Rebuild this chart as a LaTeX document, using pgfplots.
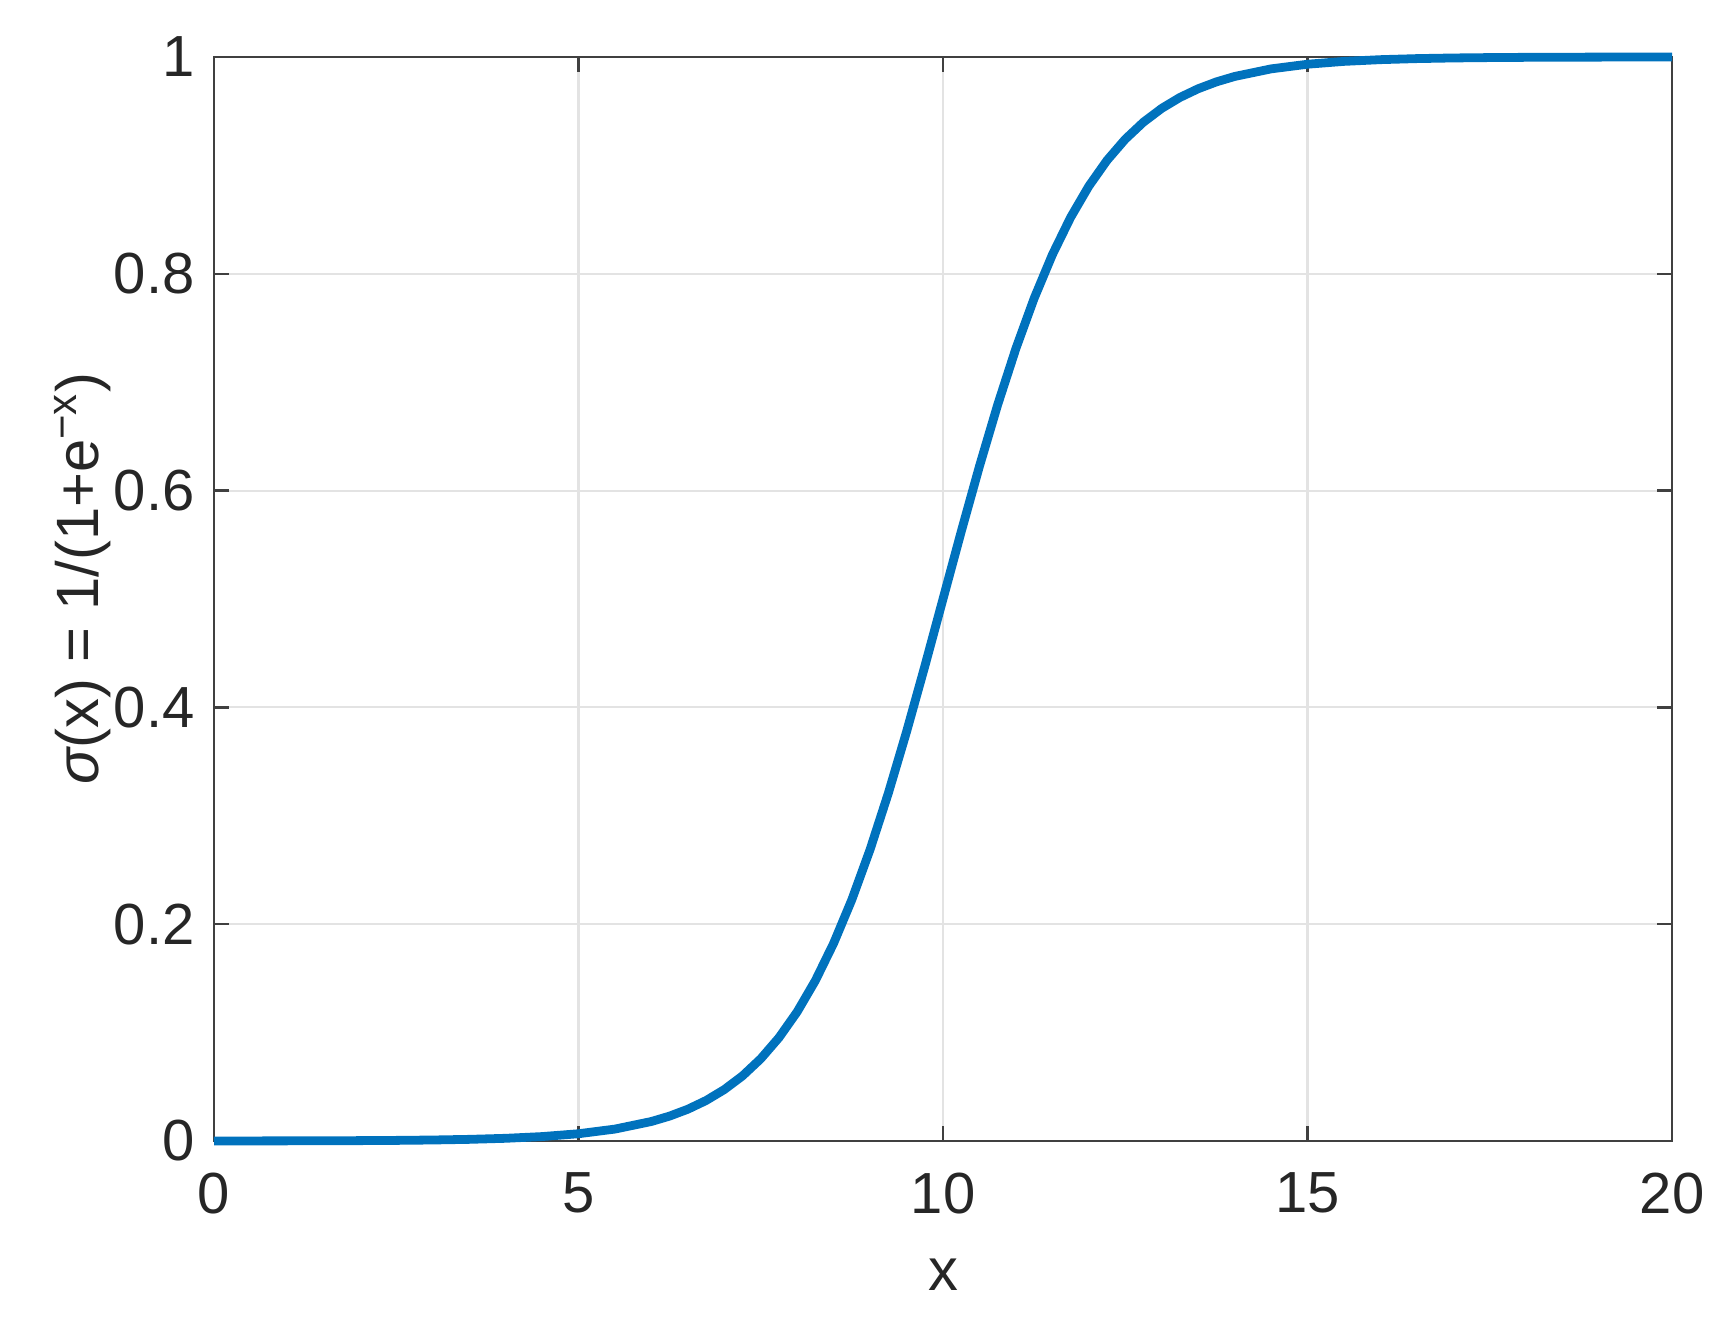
\documentclass[border=0pt]{standalone}
\usepackage{fontspec}
\setmainfont{Liberation Sans}
\usepackage{pgfplots}
\pgfplotsset{compat=1.18}

\definecolor{mblue}{HTML}{0072BD}
\definecolor{maxis}{HTML}{404040}
\definecolor{mgrid}{HTML}{E3E3E3}

\begin{document}
\begin{tikzpicture}
% fix the page to the reference proportions (axis box SW at origin)
\useasboundingbox (-2.14cm,-1.85cm) rectangle (15.21cm,11.41cm);
\begin{axis}[
    scale only axis,
    width=14.58cm, height=10.84cm,
    xmin=0, xmax=20, ymin=0, ymax=1,
    xtick={0,5,10,15,20},
    ytick={0,0.2,0.4,0.6,0.8,1},
    yticklabels={0,0.2,0.4,0.6,0.8,1},
    /pgf/number format/assume math mode=true,
    tick align=inside,
    major tick length=0.15cm,
    axis line style={maxis, line width=0.7pt},
    tick style={maxis, line width=0.7pt},
    grid=major,
    major grid style={mgrid, line width=0.6pt},
    ticklabel style={font=\fontsize{16.5}{18}\selectfont, text=black!85},
    xticklabel style={yshift=-5.5pt},
    yticklabel style={xshift=-2pt},
    xlabel={x},
    ylabel={{\itshape σ}(x) = 1/(1+e\textsuperscript{−x})},
    label style={font=\fontsize{17}{19}\selectfont, text=black!85},
    xlabel style={at={(axis description cs:0.5,0)}, anchor=base, yshift=-1.5cm},
    ylabel style={at={(axis description cs:-0.0898,0.519)}, anchor=center},
    clip=false,
]
\addplot[mblue, line width=2.5pt, line join=round] coordinates {
(0,0.000045) (0.5,0.000075) (1,0.000123) (1.5,0.000203) (2,0.000335)
(2.5,0.000553) (3,0.000911) (3.5,0.001501) (4,0.002473) (4.5,0.004070)
(5,0.006693) (5.5,0.010987) (6,0.017986) (6.25,0.022977) (6.5,0.029312)
(6.75,0.037327) (7,0.047426) (7.25,0.060087) (7.5,0.075858) (7.75,0.095349)
(8,0.119203) (8.25,0.148047) (8.5,0.182426) (8.75,0.222700) (9,0.268941)
(9.25,0.320821) (9.5,0.377541) (9.75,0.437823) (10,0.5)
(10.25,0.562177) (10.5,0.622459) (10.75,0.679179) (11,0.731059)
(11.25,0.777300) (11.5,0.817574) (11.75,0.851953) (12,0.880797)
(12.25,0.904651) (12.5,0.924142) (12.75,0.939913) (13,0.952574)
(13.25,0.962673) (13.5,0.970688) (13.75,0.977023) (14,0.982014)
(14.5,0.989013) (15,0.993307) (15.5,0.995930) (16,0.997527)
(16.5,0.998499) (17,0.999089) (17.5,0.999447) (18,0.999665)
(18.5,0.999797) (19,0.999877) (19.5,0.999925) (20,0.999955)
};
\end{axis}
\end{tikzpicture}
\end{document}
